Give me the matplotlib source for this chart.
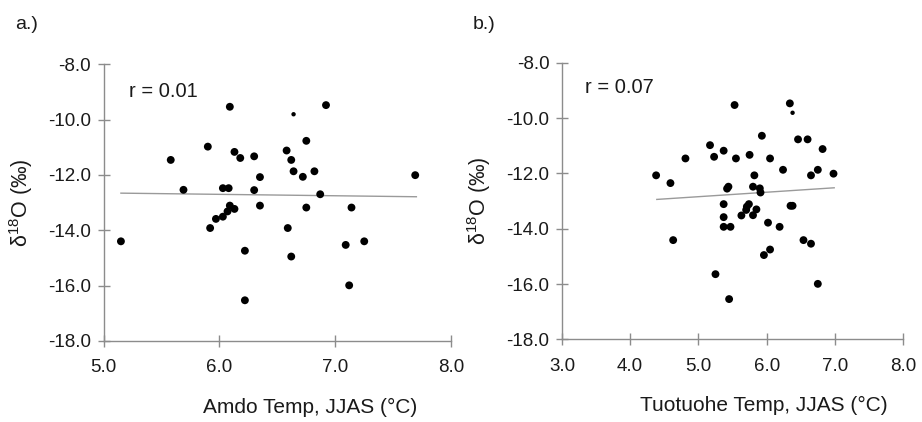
import matplotlib
matplotlib.use("Agg")
import matplotlib.pyplot as plt

plt.rcParams["font.family"] = ["Liberation Sans", "DejaVu Sans"]
plt.rcParams["mathtext.fontset"] = "custom"
plt.rcParams["mathtext.rm"] = "Liberation Sans"
plt.rcParams["mathtext.it"] = "Liberation Sans:italic"

# panel a: Amdo temperature vs d18O
amdo_temp = [5.15, 5.58, 5.69, 5.90, 5.92, 5.97, 6.03, 6.03, 6.08, 6.09,
             6.09, 6.07, 6.13, 6.13, 6.18, 6.22, 6.22, 6.30, 6.30, 6.35,
             6.35, 6.58, 6.59, 6.62, 6.62, 6.64, 6.72, 6.75, 6.75, 6.82,
             6.87, 6.92, 7.09, 7.12, 7.14, 7.25, 7.69]
amdo_d18o = [-14.40, -11.46, -12.54, -10.98, -13.92, -13.59, -12.48, -13.51, -12.48, -9.54,
             -13.11, -13.32, -13.23, -11.17, -11.39, -14.74, -16.53, -11.33, -12.55, -12.08,
             -13.11, -11.12, -13.92, -11.46, -14.95, -11.87, -12.07, -10.77, -13.18, -11.87,
             -12.70, -9.48, -14.53, -15.99, -13.18, -14.40, -12.01]
amdo_small_temp = [6.64]
amdo_small_d18o = [-9.81]
amdo_fit_x = [5.15, 7.70]
amdo_fit_y = [-12.66, -12.79]
amdo_r = "r = 0.01"

# panel b: Tuotuohe temperature vs d18O
tuo_temp = [4.38, 4.59, 4.63, 4.81, 5.17, 5.23, 5.37, 5.25, 5.37, 5.37,
            5.37, 5.47, 5.42, 5.44, 5.45, 5.53, 5.55, 5.63, 5.71, 5.74,
            5.70, 5.75, 5.80, 5.85, 5.80, 5.82, 5.90, 5.91, 5.93, 5.96,
            6.02, 6.05, 6.05, 6.19, 6.24, 6.34, 6.35, 6.38, 6.46, 6.54,
            6.60, 6.65, 6.65, 6.75, 6.75, 6.82, 6.98]
tuo_d18o = [-12.07, -12.35, -14.41, -11.46, -10.98, -11.40, -11.18, -15.64, -13.11, -13.58,
            -13.93, -13.93, -12.55, -12.48, -16.54, -9.53, -11.46, -13.52, -13.20, -13.11,
            -13.32, -11.33, -13.51, -13.30, -12.48, -12.07, -12.54, -12.69, -10.64, -14.95,
            -13.78, -14.75, -11.46, -13.93, -11.87, -9.47, -13.17, -13.17, -10.77, -14.41,
            -10.77, -12.07, -14.54, -11.87, -15.99, -11.12, -12.01]
tuo_small_temp = [6.38]
tuo_small_d18o = [-9.81]
tuo_fit_x = [4.39, 6.99]
tuo_fit_y = [-12.94, -12.52]
tuo_r = "r = 0.07"

y_ticks = [-18.0, -16.0, -14.0, -12.0, -10.0, -8.0]
axis_grey = "#8c8c8c"
txt = "#1a1a1a"

fig = plt.figure(figsize=(9.22, 4.22), dpi=100)
ax_a = fig.add_axes([0.1123, 0.192, 0.377, 0.656])
ax_b = fig.add_axes([0.6095, 0.1955, 0.370, 0.656])

panels = [
    (ax_a, amdo_temp, amdo_d18o, amdo_small_temp, amdo_small_d18o, amdo_fit_x, amdo_fit_y,
     amdo_r, [5.0, 6.0, 7.0, 8.0], "Amdo Temp, JJAS (°C)", 0.074, 0.90, -0.198),
    (ax_b, tuo_temp, tuo_d18o, tuo_small_temp, tuo_small_d18o, tuo_fit_x, tuo_fit_y,
     tuo_r, [3.0, 4.0, 5.0, 6.0, 7.0, 8.0], "Tuotuohe Temp, JJAS (°C)", 0.067, 0.909, -0.202),
]

for ax, xs, ys, sx, sy, fx, fy, rtxt, xt, xlab, rx, ry, ylx in panels:
    ax.plot(fx, fy, color="#9a9a9a", lw=1.0, zorder=1)
    ax.scatter(xs, ys, s=32, color="black", edgecolors="none", zorder=2)
    ax.scatter(sx, sy, s=10, color="black", edgecolors="none", zorder=2)
    ax.set_xlim(xt[0], xt[-1])
    ax.set_ylim(-18, -8)
    ax.set_xticks(xt)
    ax.set_xticklabels([f"{v:.1f}" for v in xt])
    ax.set_yticks(y_ticks)
    ax.set_yticklabels([f"{v:.1f}" for v in y_ticks])
    for side in ["top", "right"]:
        ax.spines[side].set_visible(False)
    for side in ["left", "bottom"]:
        ax.spines[side].set_color(axis_grey)
        ax.spines[side].set_linewidth(1.0)
    ax.tick_params(direction="inout", length=8, width=1.0, color=axis_grey,
                   labelsize=13.5, labelcolor=txt)
    ax.tick_params(axis="x", pad=9)
    ax.tick_params(axis="y", pad=5)
    ax.set_xlabel(xlab, fontsize=15, color=txt)
    ax.xaxis.set_label_coords(0.593, -0.205)
    ax.set_ylabel("δ$^{18}$O (‰)", fontsize=15.5, color=txt)
    ax.yaxis.set_label_coords(ylx, 0.5)
    ax.text(rx, ry, rtxt, transform=ax.transAxes,
            fontsize=14.5, color=txt, va="center", ha="left")

fig.text(0.0163, 0.943, "a.)", fontsize=14, color=txt, va="center")
fig.text(0.513, 0.943, "b.)", fontsize=14, color=txt, va="center")

fig.savefig("out.png", dpi=100)
